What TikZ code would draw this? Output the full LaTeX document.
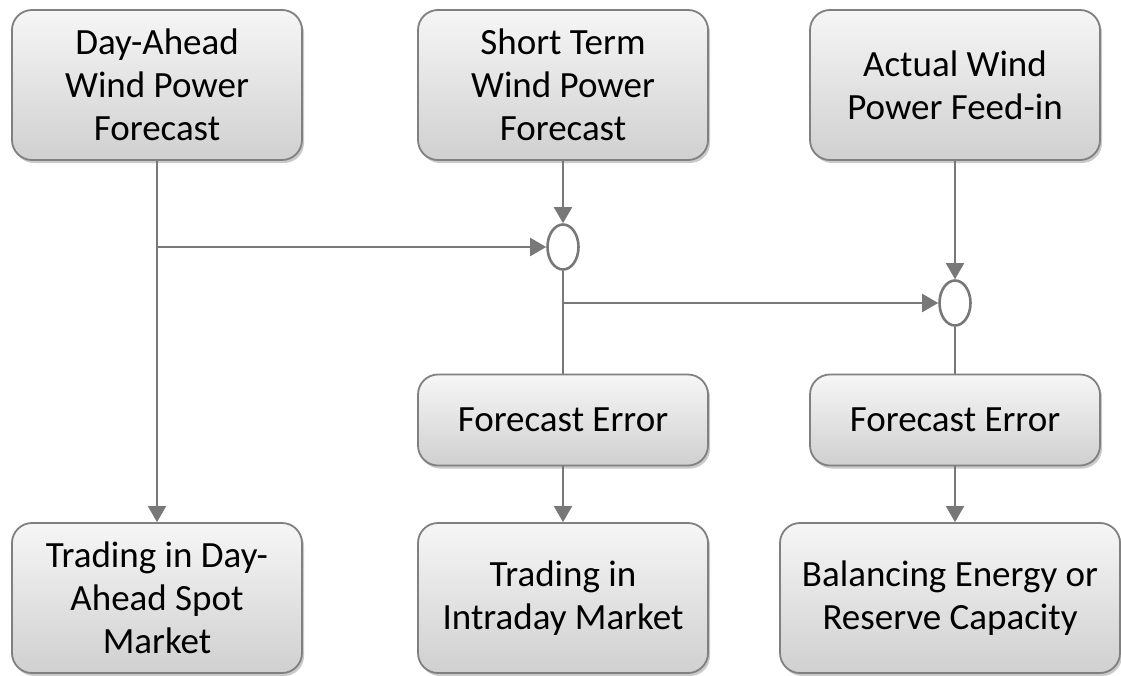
\documentclass[tikz,border=0pt]{standalone}
\usepackage{fontspec}
\setmainfont{Carlito}
\usetikzlibrary{arrows.meta,shapes.geometric,shadows}
\definecolor{boxtop}{RGB}{246,246,246}
\definecolor{boxbot}{RGB}{208,208,208}
\definecolor{edge}{RGB}{128,128,128}
\definecolor{wire}{RGB}{120,120,120}
\tikzset{
  box/.style={draw=edge, line width=1.8pt, rounded corners=20pt,
    top color=boxtop, bottom color=boxbot,
    drop shadow={shadow xshift=2pt, shadow yshift=-3pt, opacity=0.35, fill=black!60},
    minimum width=290pt, minimum height=150pt, inner sep=0pt,
    align=center, font=\fontsize{37}{43}\selectfont},
  errbox/.style={box, minimum height=91pt},
  joint/.style={draw=wire, line width=2.6pt, fill=white, ellipse,
    minimum width=31pt, minimum height=45pt, inner sep=0pt},
  flow/.style={draw=wire, line width=2pt, -{Triangle[length=16pt,width=18pt]}},
  link/.style={draw=wire, line width=2pt}
}
\begin{document}
\begin{tikzpicture}[x=1pt,y=-1pt]
\useasboundingbox (0,0) rectangle (1121,675);
% forecasts and feed-in
\node[box] (da) at (157,85) {Day-Ahead\\Wind Power\\Forecast};
\node[box] (st) at (563,85) {Short Term\\Wind Power\\Forecast};
\node[box] (act) at (955,85) {Actual Wind\\Power Feed-in};
% comparison points
\node[joint] (e1) at (563,247) {};
\node[joint] (e2) at (955,303) {};
% forecast errors
\node[errbox] (fe1) at (563,420) {Forecast Error};
\node[errbox] (fe2) at (955,420) {Forecast Error};
% markets
\node[box] (spot) at (157,598) {Trading in Day-\\Ahead Spot\\Market};
\node[box] (intra) at (563,598) {Trading in\\Intraday Market};
\node[box, minimum width=340pt] (bal) at (950,598) {Balancing Energy or\\Reserve Capacity};
% branch points on the wires
\coordinate (j1) at (da.south |- e1.west);
\coordinate (j2) at (e1.south |- e2.west);
% connectors
\draw[flow] (da.south) -- (spot.north);
\draw[flow] (j1) -- (e1.west);
\draw[flow] (st.south) -- (e1.north);
\draw[link] (e1.south) -- (fe1.north);
\draw[flow] (j2) -- (e2.west);
\draw[flow] (act.south) -- (e2.north);
\draw[link] (e2.south) -- (fe2.north);
\draw[flow] (fe1.south) -- (intra.north);
\draw[flow] (fe2.south) -- (fe2.south |- bal.north);
\end{tikzpicture}
\end{document}
